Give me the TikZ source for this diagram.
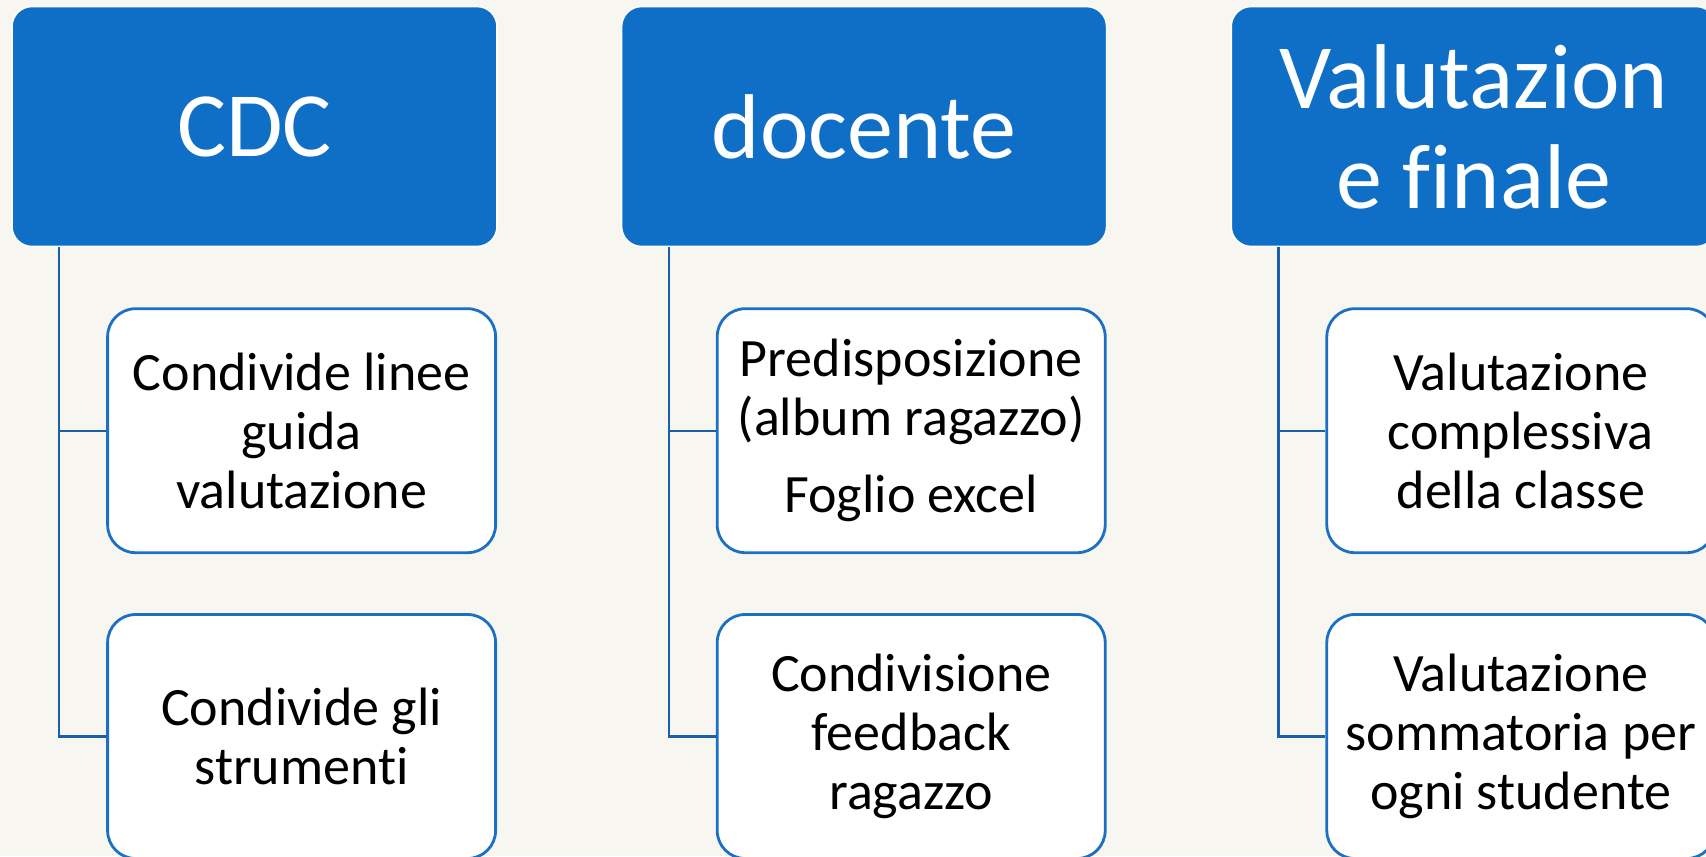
\documentclass[tikz,border=0pt]{standalone}
\usepackage{fontspec}
\setmainfont[Ligatures=NoCommon]{Carlito}
\usetikzlibrary{positioning}

\definecolor{bgcream}{HTML}{F7F6F0}
\definecolor{headblue}{HTML}{0F6EC5}
\definecolor{subblue}{HTML}{1B70C4}
\definecolor{linkblue}{HTML}{1A5FA8}

\def\colgap{61.5pt}
\def\rowgap{29.5pt}

\begin{document}
\begin{tikzpicture}[x=0.5pt,y=-0.5pt,node distance=\rowgap]
    \tikzstyle{head}=[rectangle,rounded corners=10pt,fill=headblue,draw=white,line width=0.8pt,minimum width=242.5pt,minimum height=120pt,text=white,align=center,font=\fontsize{46}{50}\selectfont,inner sep=0pt]
    \tikzstyle{sub}=[rectangle,rounded corners=14pt,fill=white,draw=subblue,line width=1.4pt,minimum width=194pt,minimum height=122pt,align=center,font=\fontsize{27}{29.5}\selectfont,inner sep=0pt]
    \tikzstyle{link}=[draw=linkblue,line width=1.2pt]

    \fill[bgcream] (0,0) rectangle (1706,856);
    \clip (0,0) rectangle (1706,856);

    % column headers
    \node[head] (h1) at (254.5,126.5) {CDC};
    \node[head, right=\colgap of h1] (h2) {docente};
    \node[head, right=\colgap of h2] (h3) {Valutazion\\e finale};

    % boxes below each header
    \node[sub, below right=30pt and 47.5pt of h1.south west] (c11) {Condivide linee\\guida\\valutazione};
    \node[sub, below=of c11] (c12) {Condivide gli\\strumenti};

    \node[sub, below right=30pt and 47.5pt of h2.south west] (c21) {Predisposizione\\(album ragazzo)\\[9pt]Foglio excel};
    \node[sub, below=of c21] (c22) {Condivisione\\feedback\\ragazzo};

    \node[sub, below right=30pt and 47.5pt of h3.south west] (c31) {Valutazione\\complessiva\\della classe};
    \node[sub, below=of c31] (c32) {Valutazione\\sommatoria per\\ogni studente};

    % connectors
    \foreach \h/\a/\b in {h1/c11/c12, h2/c21/c22, h3/c31/c32}{
        \coordinate (\h top) at ([xshift=24pt]\h.south west);
        \draw[link] (\h top) |- (\a.west);
        \draw[link] (\h top) |- (\b.west);
    }
\end{tikzpicture}
\end{document}
